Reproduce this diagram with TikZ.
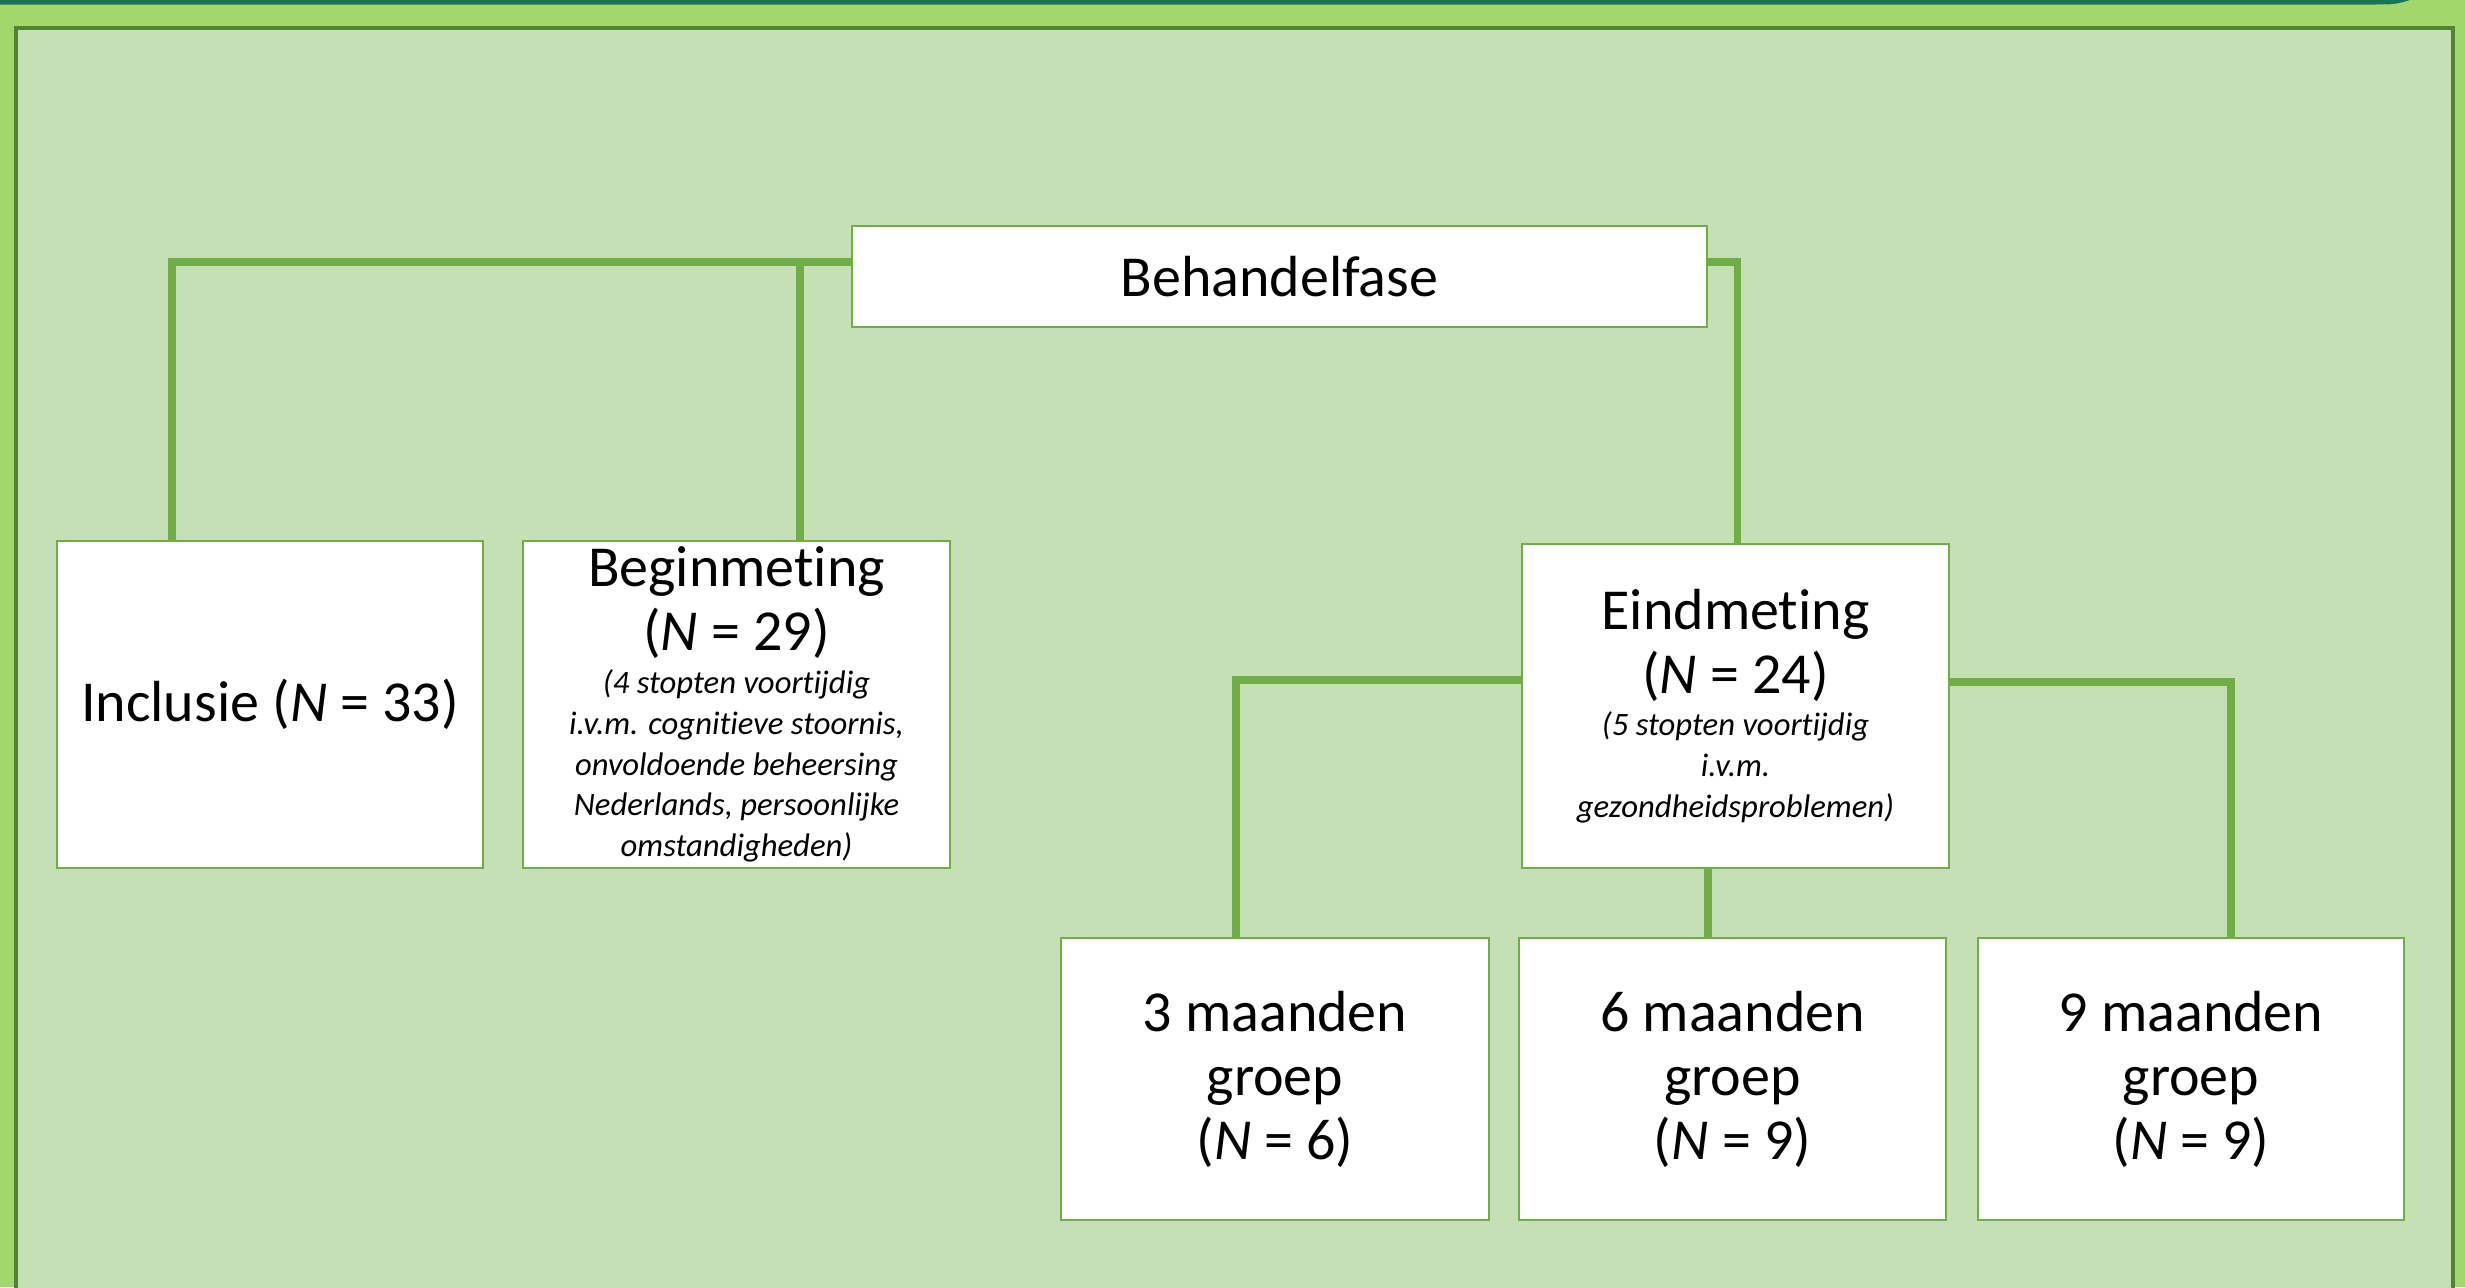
\documentclass[tikz,border=0pt]{standalone}
\usepackage{fontspec}
\setmainfont{Carlito}[Ligatures=NoCommon]
\usepackage{tikz}
\usetikzlibrary{positioning, calc}
\usepackage{xcolor}
\definecolor{outerGreen}{HTML}{A2D86A}
\definecolor{panelGreen}{HTML}{C5E0B4}
\definecolor{panelEdge}{HTML}{548235}
\definecolor{lineGreen}{HTML}{70AD47}
\definecolor{bandTeal}{HTML}{17735A}

\newcommand{\bigtxt}{\fontsize{16.5}{18.2}\selectfont}
\newcommand{\smalltxt}{\fontsize{9.3}{11.6}\selectfont\itshape}
% small italic note under a heading
\newcommand{\note}[1]{\parbox[t]{4.2cm}{\centering\smalltxt #1}}

\begin{document}
\begin{tikzpicture}[
    font=\bigtxt,
    box/.style={draw=lineGreen, line width=0.8pt, fill=white, align=center,
                inner sep=0pt, minimum width=#1},
    box/.default=4.27cm,
    link/.style={draw=lineGreen, line width=2.1pt},
  ]
    \useasboundingbox (0,0) rectangle (24.65,-12.87);
    \clip (0,0) rectangle (24.65,-12.87);
    \fill[outerGreen] (0,0) rectangle (24.65,-12.87);
    \fill[bandTeal] (0,0.1) -- (24.10,0.1) -- (24.10,0)
      .. controls (23.95,-0.045) .. (23.70,-0.045) -- (0,-0.045) -- cycle;
    \draw[panelEdge, line width=1.1pt, fill=panelGreen] (0.16,-0.28) rectangle (24.53,-13.5);

    \node[box=8.55cm, minimum height=1.01cm] (behandel) at (12.795,-2.765) {Behandelfase};
    \node[box=4.26cm, minimum height=3.27cm] (inclusie) at (2.70,-7.045) {Inclusie (\textit{N} = 33)};
    \node[box, minimum height=3.27cm] (beginm) at (7.365,-7.045)
      {Beginmeting\\(\textit{N} = 29)\\[-6pt]
       \note{(4 stopten voortijdig\\ i.v.m. cognitieve stoornis,\\ onvoldoende beheersing\\
             Nederlands, persoonlijke\\ omstandigheden)}};
    \node[box, minimum height=3.24cm] (eind) at (17.355,-7.06)
      {Eindmeting\\(\textit{N} = 24)\\[-6pt]
       \note{(5 stopten voortijdig\\ i.v.m.\\ gezondheidsproblemen)}};
    \node[box=4.28cm, minimum height=2.82cm] (m3) at (12.75,-10.79) {3 maanden\\groep\\(\textit{N} = 6)};
    \node[box, minimum height=2.82cm] (m6) at (17.325,-10.79) {6 maanden\\groep\\(\textit{N} = 9)};
    \node[box=4.26cm, minimum height=2.82cm] (m9) at (21.91,-10.79) {9 maanden\\groep\\(\textit{N} = 9)};

    % connectors
    \coordinate (lt) at (1.72,-2.62);
    \coordinate (bt) at (8.00,-2.62);
    \coordinate (e3) at (12.36,-6.80);
    \coordinate (e9) at (22.31,-6.82);
    \coordinate (e6) at (17.08,0);
    \draw[link] (behandel.west |- lt) -- (lt) -- (lt |- inclusie.north);
    \draw[link] (bt) -- (bt |- beginm.north);
    \draw[link] (behandel.east |- lt) -| ($(eind.north)+(0.02,0)$);
    \draw[link] (eind.west |- e3) -- (e3) -- (e3 |- m3.north);
    \draw[link] (eind.east |- e9) -- (e9) -- (e9 |- m9.north);
    \draw[link] (e6 |- eind.south) -- (e6 |- m6.north);
  \end{tikzpicture}
\end{document}
